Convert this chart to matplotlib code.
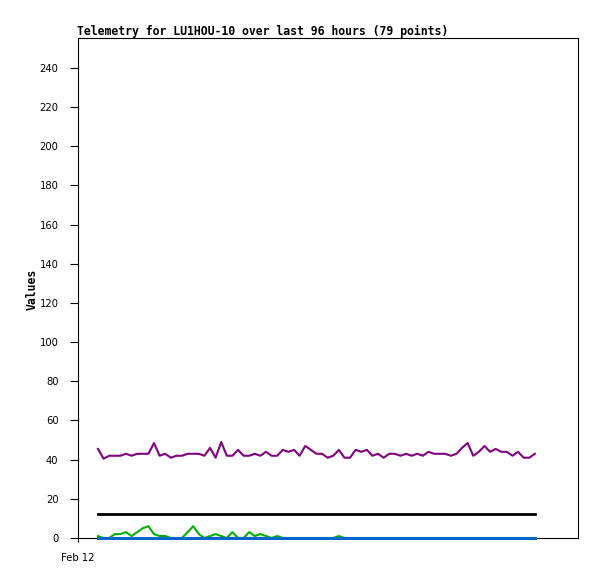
import matplotlib
matplotlib.use("Agg")
import matplotlib.pyplot as plt
import numpy as np

# telemetry channels, 79 samples over the last 96 hours
purple = [45.5, 40.5, 42, 42, 42, 43, 42, 43, 43, 43,
          48.5, 42, 43, 41, 42, 42, 43, 43, 43, 42,
          46, 41, 49, 42, 42, 45, 42, 42, 43, 42,
          44, 42, 42, 45, 44, 45, 42, 47, 45, 43,
          43, 41, 42, 45, 41, 41, 45, 44, 45, 42,
          43, 41, 43, 43, 42, 43, 42, 43, 42, 44,
          43, 43, 43, 42, 43, 46, 48.5, 42, 44, 47,
          44, 45.5, 44, 44, 42, 44, 41, 41, 43]
black = [12] * 79
green = [1, 0, 0, 2, 2, 3, 1, 3, 5, 6,
         2, 1, 1, 0, 0, 0, 3, 6, 2, 0,
         1, 2, 1, 0, 3, 0, 0, 3, 1, 2,
         1, 0, 1, 0, 0, 0, 0, 0, 0, 0,
         0, 0, 0, 1, 0, 0, 0, 0, 0, 0,
         0, 0, 0, 0, 0, 0, 0, 0, 0, 0,
         0, 0, 0, 0, 0, 0, 0, 0, 0, 0,
         0, 0, 0, 0, 0, 0, 0, 0, 0]
blue = [0] * 79

yticks = [0, 20, 40, 60, 80, 100, 120, 140, 160, 180, 200, 220, 240]
xtick_labels = ['Feb 12']

x = np.arange(len(purple))

fig = plt.figure(figsize=(5.97, 5.79), dpi=100)
ax = fig.add_axes([78/597, 41/579, 500/597, 500/579])

ax.plot(x, purple, color='#800080', lw=1.5)
ax.plot(x, black, color='black', lw=2.0)
# draw the lines that sit on zero over the bottom spine
ax.plot(x, green, color='#00b000', lw=1.5, clip_on=False, zorder=3)
ax.plot(x, blue, color='#0066cc', lw=2.2, clip_on=False, zorder=4)

ax.set_xlim(-3.57, 85.7)
ax.set_ylim(0, 255.3)
ax.set_yticks(yticks)
ax.set_xticks([-3.57])
ax.set_xticklabels(xtick_labels)
ax.tick_params(axis='y', length=6, width=0.8, pad=8, labelsize=7.2)
ax.tick_params(axis='x', length=3, width=0.8, pad=8, labelsize=7.2)
for s in ax.spines.values():
    s.set_linewidth(0.8)

fig.text(77/597, 1 - 31/579, 'Telemetry for LU1HOU-10 over last 96 hours (79 points)',
         family='DejaVu Sans Mono', weight='bold', fontsize=8.3, va='center', ha='left')
fig.text(32/597, 1 - 289/579, 'Values', family='DejaVu Sans Mono', weight='bold',
         fontsize=8.3, rotation=90, va='center', ha='center')

fig.savefig('out.png', dpi=100)
